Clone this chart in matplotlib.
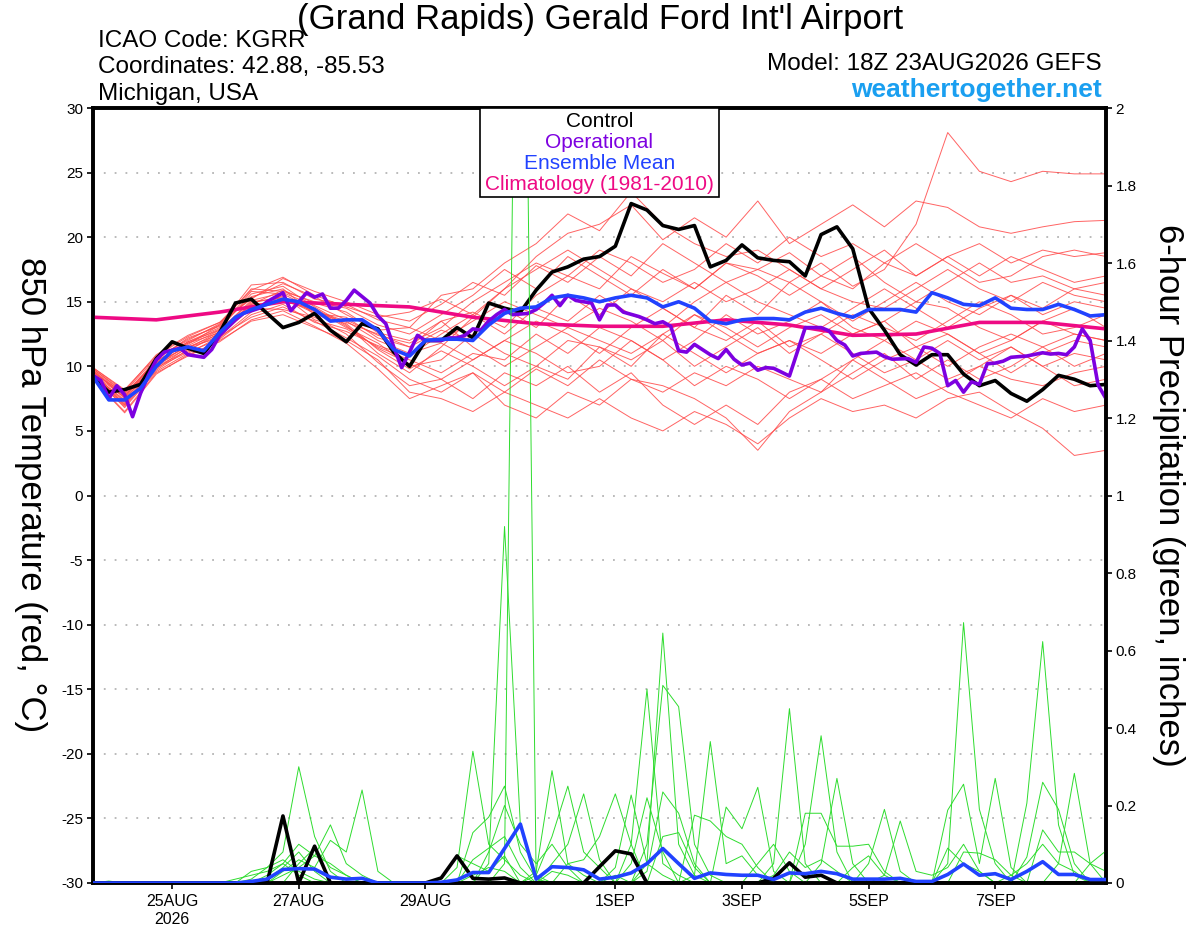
import numpy as np
import matplotlib
matplotlib.use("Agg")
import matplotlib.pyplot as plt
from matplotlib.patches import Rectangle

plt.rcParams['font.family'] = ['Liberation Sans', 'DejaVu Sans']

# ---------------- DATA ----------------
# forecast hours since 18Z 23AUG2026 (6-hourly ensemble output)
FCST_HOURS = list(range(0, 385, 6))
# 12-hourly hours used for the (estimated) individual red members
MEMBER_HOURS = list(range(0, 385, 12))
# daily climatology hours
CLIM_HOURS = list(range(0, 385, 24))

xtick_hours = [30, 78, 126, 198, 246, 294, 342]
xtick_labels = ["25AUG\n2026", "27AUG", "29AUG", "1SEP", "3SEP", "5SEP", "7SEP"]

control_temp = [9.2, 8.0, 8.2, 8.6, 10.6, 11.9, 11.4, 11.0, 12.6, 14.9,
                15.2, 14.1, 13.0, 13.4, 14.1, 12.8, 11.9, 13.3, 12.9, 11.1,
                10.0, 12.0, 12.0, 13.0, 12.2, 14.9, 14.5, 14.2, 15.9, 17.3,
                17.7, 18.3, 18.5, 19.3, 22.6, 22.1, 20.9, 20.6, 20.9, 17.7,
                18.2, 19.4, 18.4, 18.2, 18.1, 17.0, 20.2, 20.8, 19.1, 14.5,
                12.8, 10.9, 10.1, 10.9, 10.9, 9.4, 8.5, 8.9, 7.9, 7.3,
                8.2, 9.3, 9.0, 8.5, 8.6]

mean_temp = [9.2, 7.4, 7.4, 8.3, 10.0, 11.2, 11.5, 11.2, 12.6, 13.8,
             14.4, 14.8, 15.2, 15.0, 14.4, 13.5, 13.6, 13.6, 12.8, 11.3,
             10.8, 12.0, 12.1, 12.1, 12.0, 13.2, 14.1, 14.5, 14.6, 15.3,
             15.5, 15.3, 15.0, 15.3, 15.5, 15.3, 14.6, 15.0, 14.5, 13.5,
             13.3, 13.6, 13.7, 13.7, 13.6, 14.2, 14.5, 14.1, 13.8, 14.4,
             14.4, 14.4, 14.2, 15.7, 15.3, 14.8, 14.7, 15.3, 14.5, 14.4,
             14.4, 14.8, 14.4, 13.9, 14.0]

# operational run (3-hourly where readable)
oper_hours = [0, 3, 6, 9, 12, 15, 18, 21, 24, 27, 33, 36, 42, 45, 48, 54, 57, 63, 66, 72,
              75, 78, 81, 84, 87, 90, 93, 96, 99, 102, 105, 108, 111, 114, 117, 120, 123, 126,
              132, 135, 138, 141, 144, 147, 150, 153, 156, 159, 165, 168, 171, 174, 177, 180,
              183, 189, 192, 195, 198, 201, 207, 210, 213, 216, 219, 222, 225, 228, 231, 234,
              237, 240, 243, 246, 249, 252, 255, 258, 264, 270, 276, 279, 282, 285, 288, 291,
              297, 300, 303, 309, 312, 315, 318, 321, 324, 327, 330, 333, 336, 339, 342, 345,
              348, 354, 360, 363, 366, 369, 372, 375, 378, 381, 384]
oper_temp = [9.3, 8.9, 7.5, 8.5, 7.8, 6.1, 7.9, 9.3, 10.5, 11.1, 11.4, 10.9, 10.7, 11.3, 12.4,
             13.6, 14.1, 14.5, 15.0, 15.7, 14.3, 15.0, 15.7, 15.35, 15.6, 14.5, 14.5, 15.1, 15.9,
             15.4, 14.9, 13.9, 13.3, 11.5, 9.9, 11.1, 12.4, 12.0, 12.0, 12.2, 12.2, 12.4, 12.9,
             12.8, 13.5, 14.0, 14.4, 14.0, 14.1, 14.4, 14.9, 15.5, 14.7, 15.5, 15.1, 14.9, 13.6,
             14.75, 14.75, 14.2, 13.85, 13.6, 13.3, 13.45, 13.1, 11.2, 11.1, 11.7, 11.3, 10.9,
             10.6, 11.3, 10.55, 10.1, 10.25, 9.7, 9.9, 9.85, 9.25, 13.0, 13.0, 12.75, 12.0, 11.65,
             10.8, 11.0, 11.1, 10.75, 10.55, 10.6, 10.3, 11.5, 11.4, 11.0, 8.5, 8.9, 8.0, 8.8,
             8.6, 10.2, 10.25, 10.4, 10.7, 10.8, 11.05, 10.95, 11.0, 10.9, 11.5, 12.9, 12.0,
             8.55, 7.5]

clim_temp = [13.8, 13.6, 14.2, 15.0, 14.8, 14.6, 13.8, 13.3, 13.1, 13.1, 13.6, 13.2,
             12.4, 12.5, 13.4, 13.4, 12.9]

# individual ensemble members, 850 hPa temperature (12-hourly estimates)
red_members = [
    [9.8, 7.9, 10.3, 11.8, 12.9, 15.6, 16.2, 14.6, 13.2, 11.0, 9.5, 11.5, 13.8, 16.0, 18.5, 20.3, 21.0,
     22.5, 19.8, 21.5, 20.0, 22.8, 19.5, 21.0, 22.5, 20.8, 22.8, 22.3, 20.8, 20.3, 20.8, 21.2, 21.3],
    [9.4, 7.2, 10.0, 11.2, 12.6, 14.8, 15.9, 14.9, 14.2, 12.6, 12.0, 13.5, 14.2, 13.0, 15.5, 17.0, 16.0,
     18.5, 17.2, 16.0, 18.0, 17.5, 16.5, 18.0, 16.2, 17.5, 21.0, 28.1, 25.1, 24.3, 25.1, 24.9, 24.9],
    [9.0, 6.5, 9.5, 10.8, 12.0, 13.5, 14.0, 13.0, 12.0, 10.5, 8.0, 7.5, 6.5, 8.0, 7.0, 6.0, 7.5,
     6.0, 5.0, 6.5, 5.5, 4.0, 6.0, 7.5, 6.5, 7.0, 6.0, 7.5, 8.0, 6.5, 5.2, 3.1, 3.5],
    [9.6, 7.7, 10.6, 12.1, 13.2, 16.3, 16.5, 15.2, 14.8, 13.6, 13.0, 15.5, 16.0, 18.0, 19.5, 21.8, 20.5,
     23.5, 21.0, 19.5, 18.5, 19.0, 17.5, 16.0, 17.5, 19.0, 17.0, 18.5, 17.0, 18.5, 17.5, 16.5, 17.0],
    [9.2, 7.0, 9.8, 11.5, 12.2, 14.2, 15.5, 13.6, 12.9, 11.5, 10.5, 9.5, 11.0, 10.5, 12.5, 11.0, 13.0,
     12.0, 10.5, 12.0, 14.0, 12.5, 13.5, 15.0, 13.0, 12.0, 13.5, 12.5, 11.0, 12.0, 13.5, 12.5, 12.0],
    [9.9, 8.2, 10.8, 12.3, 13.4, 15.2, 16.8, 15.8, 15.0, 14.0, 13.5, 14.8, 16.5, 15.5, 17.8, 16.5, 18.5,
     17.0, 19.5, 18.0, 16.5, 17.5, 18.8, 17.0, 16.0, 18.0, 19.5, 18.0, 16.5, 17.0, 18.5, 19.0, 18.5],
    [9.3, 6.8, 9.6, 11.0, 12.3, 13.8, 14.6, 13.5, 12.2, 10.8, 9.0, 8.0, 9.5, 8.0, 9.8, 8.5, 10.5,
     9.0, 8.0, 9.5, 8.5, 10.0, 9.0, 8.0, 10.5, 9.0, 7.5, 8.5, 10.0, 9.0, 8.5, 9.5, 10.0],
    [9.7, 7.5, 10.2, 11.6, 12.8, 15.0, 15.3, 14.1, 13.8, 12.2, 11.5, 12.8, 12.0, 14.5, 13.0, 15.5, 14.0,
     16.0, 14.5, 13.0, 15.5, 14.0, 16.5, 15.0, 13.5, 15.0, 16.5, 15.0, 14.0, 15.5, 14.5, 16.0, 15.5],
    [9.5, 7.9, 10.4, 11.9, 13.0, 15.8, 15.6, 14.4, 13.0, 11.8, 10.0, 10.5, 12.5, 11.0, 10.0, 12.0, 11.5,
     10.0, 12.5, 11.0, 9.5, 11.0, 12.0, 10.5, 9.0, 10.5, 11.5, 12.5, 11.0, 9.5, 11.0, 12.0, 11.5],
    [9.1, 6.9, 9.7, 11.3, 12.4, 14.5, 14.4, 13.8, 12.5, 10.3, 8.5, 9.0, 7.5, 9.5, 8.5, 10.0, 8.0,
     9.5, 7.0, 5.5, 7.0, 5.5, 8.0, 9.0, 7.5, 8.5, 9.5, 8.0, 7.0, 6.0, 7.5, 6.5, 7.0],
    [9.8, 8.0, 10.7, 12.0, 13.3, 16.0, 15.8, 15.0, 14.5, 13.2, 12.5, 14.0, 15.5, 17.5, 16.0, 18.5, 17.0,
     15.5, 17.5, 16.0, 18.0, 17.0, 15.5, 17.0, 18.5, 16.5, 15.0, 16.5, 18.0, 16.5, 17.0, 16.0, 16.5],
    [9.4, 7.3, 10.1, 11.4, 12.7, 14.6, 15.1, 14.3, 13.5, 12.0, 11.0, 11.8, 10.5, 12.0, 13.5, 12.5, 11.0,
     13.0, 14.5, 13.0, 12.0, 13.5, 11.5, 12.5, 14.0, 13.0, 12.0, 13.5, 15.0, 14.0, 12.5, 13.0, 14.0],
    [9.6, 7.6, 10.5, 12.2, 13.1, 15.4, 16.0, 14.0, 13.3, 11.3, 9.8, 11.2, 10.0, 8.5, 10.0, 9.0, 11.5,
     10.5, 12.0, 10.0, 11.5, 13.0, 11.0, 12.5, 11.0, 9.5, 10.5, 12.0, 10.5, 11.5, 10.0, 11.0, 10.5],
    [9.2, 7.1, 9.9, 11.1, 12.1, 14.0, 14.8, 13.4, 12.7, 11.6, 10.8, 12.5, 14.0, 12.5, 14.5, 13.5, 15.5,
     14.0, 13.0, 15.0, 16.5, 15.0, 14.0, 13.0, 14.5, 16.0, 14.5, 13.0, 14.5, 15.5, 14.0, 15.0, 14.5],
    [9.7, 7.8, 10.0, 11.7, 13.2, 15.3, 16.4, 15.4, 14.0, 12.8, 13.0, 12.0, 13.5, 15.0, 14.0, 13.0, 14.5,
     13.5, 12.0, 14.0, 13.0, 11.5, 13.0, 14.0, 12.5, 13.5, 15.0, 14.5, 13.0, 12.0, 13.5, 14.5, 13.0],
    [9.3, 7.4, 10.3, 11.5, 12.5, 14.8, 15.0, 14.5, 13.1, 11.4, 10.2, 9.0, 10.5, 12.0, 11.0, 9.5, 10.0,
     12.0, 10.5, 8.5, 10.0, 9.0, 7.5, 9.0, 10.5, 12.0, 10.5, 9.0, 10.0, 11.5, 10.0, 8.5, 9.0],
    [9.5, 7.0, 10.2, 11.9, 12.8, 15.1, 15.7, 14.7, 13.6, 12.4, 11.8, 13.0, 15.0, 16.5, 18.0, 17.0, 19.0,
     18.0, 16.5, 17.5, 19.5, 18.0, 20.0, 18.5, 19.5, 18.0, 17.0, 18.5, 19.5, 18.0, 19.0, 18.5, 18.8],
    [9.0, 6.4, 9.4, 10.9, 11.9, 13.6, 14.3, 13.1, 11.8, 9.8, 7.5, 8.5, 9.5, 7.0, 6.0, 8.0, 7.0,
     9.0, 8.5, 7.5, 6.0, 3.5, 6.5, 8.0, 9.5, 11.0, 9.0, 10.5, 9.0, 10.0, 11.5, 10.0, 11.0],
    [9.9, 8.1, 10.9, 12.4, 13.4, 15.9, 16.9, 15.5, 14.6, 13.8, 14.2, 15.2, 14.0, 16.0, 17.5, 19.0, 17.5,
     16.0, 15.0, 16.5, 15.0, 16.0, 17.5, 16.0, 15.0, 14.5, 16.0, 17.5, 16.0, 15.0, 16.5, 15.5, 15.0],
    [9.4, 7.6, 10.4, 11.8, 12.6, 14.9, 15.4, 14.2, 13.4, 12.5, 11.5, 13.5, 11.5, 10.0, 11.5, 13.0, 12.0,
     11.0, 12.5, 14.0, 12.5, 11.0, 12.0, 11.0, 12.5, 13.5, 11.5, 10.0, 11.5, 12.5, 11.5, 12.5, 12.0],
]

# 6-hour precipitation (inches)
control_precip = [0, 0, 0, 0, 0, 0, 0, 0, 0, 0,
                  0, 0, 0.173, 0, 0.095, 0, 0, 0, 0, 0,
                  0, 0, 0.013, 0.07, 0.012, 0.01, 0.013, 0, 0, 0,
                  0, 0, 0.042, 0.083, 0.075, 0, 0, 0, 0, 0,
                  0, 0, 0, 0.012, 0.052, 0.015, 0.02, 0, 0, 0,
                  0, 0, 0, 0, 0, 0, 0, 0, 0, 0,
                  0, 0, 0, 0, 0]
mean_precip = [0, 0, 0, 0, 0, 0, 0, 0, 0, 0,
               0.004, 0.01, 0.035, 0.037, 0.036, 0.015, 0.01, 0.012, 0, 0,
               0, 0, 0.002, 0.008, 0.027, 0.027, 0.089, 0.152, 0.01, 0.042,
               0.04, 0.034, 0.01, 0.015, 0.026, 0.05, 0.089, 0.05, 0.012, 0.026,
               0.022, 0.02, 0.02, 0.009, 0.026, 0.024, 0.03, 0.024, 0.01, 0.01,
               0.01, 0.012, 0.004, 0.004, 0.022, 0.049, 0.02, 0.024, 0.009, 0.03,
               0.055, 0.022, 0.022, 0.009, 0.009]

# individual members: {6-hour step index: inches}, other steps are dry
green_members = [
    {10: .01, 11: .04, 12: .08, 13: .30, 14: .12, 15: .03, 23: .04, 24: .34, 25: .10, 26: .06, 27: .02,
     33: .02, 54: .05, 55: .672, 56: .19, 57: .05},
    {1: .005, 11: .02, 12: .05, 13: .10, 14: .07, 15: .15, 16: .05, 17: .02, 24: .13, 25: .17, 26: .25,
     27: .08, 28: .01, 42: .05, 43: .10, 44: .03},
    {12: .03, 13: .06, 14: .04, 15: .11, 16: .08, 17: .24, 18: .03, 22: .01, 23: .07, 24: .05, 25: .03,
     26: .07, 33: .04, 34: .227, 35: .05, 36: .02, 55: .08, 56: .077, 57: .06, 58: .02},
    {10: .03, 11: .04, 12: .06, 13: .03, 14: .01, 24: .06, 25: .09, 26: .12, 27: .04, 34: .05, 35: .22,
     36: .08, 59: .067, 60: .26, 61: .19, 62: .05},
    {12: .02, 13: .04, 14: .07, 15: .05, 16: .02, 28: .03, 29: .29, 30: .05, 31: .02, 38: .175, 39: .16,
     40: .12, 41: .10, 42: .04, 61: .05, 62: .283, 63: .05},
    {11: .01, 12: .04, 13: .08, 14: .03, 28: .02, 29: .12, 30: .25, 31: .08, 32: .04, 36: .12, 37: .13,
     38: .04, 60: .137, 61: .08, 62: .08, 63: .05, 64: .03},
    {9: .01, 10: .02, 11: .03, 12: .05, 13: .02, 29: .05, 30: .10, 31: .23, 32: .06, 40: .196, 41: .14,
     42: .247, 43: .03, 63: .05, 64: .083},
    {13: .05, 14: .09, 15: .04, 16: .02, 25: .08, 26: .20, 27: .10, 28: .05, 29: .10, 30: .04, 43: .05,
     44: .45, 45: .05},
    {26: .05, 27: 3.5, 28: .0, 45: .10, 46: .38, 47: .08},
    {25: .05, 26: .92, 27: .15, 28: .02, 46: .05, 47: .27, 48: .05, 58: .02, 59: .05, 60: .10, 61: .05,
     62: .03},
    {30: .05, 31: .06, 32: .12, 33: .23, 34: .10, 45: .18, 46: .18, 47: .095, 48: .095, 49: .10, 50: .03},
    {24: .02, 25: .04, 26: .03, 29: .03, 30: .02, 35: .10, 36: .51, 37: .455, 38: .10, 39: .02, 54: .188,
     55: .255, 56: .05, 57: .27, 58: .04},
    {34: .10, 35: .50, 36: .05, 37: .02, 49: .05, 50: .19, 51: .03, 54: .09, 55: .05, 56: .03},
    {35: .05, 36: .645, 37: .10, 38: .02, 50: .02, 51: .16, 52: .03, 53: .02, 54: .04, 55: .10, 56: .03},
    {35: .03, 36: .235, 37: .18, 38: .05, 43: .02, 44: .08, 45: .04, 46: .06, 47: .03},
    {38: .02, 39: .365, 40: .05, 41: .07, 42: .02, 48: .04, 49: .07, 50: .02, 59: .206, 60: .623,
     61: .15, 62: .02},
]

# ---------------- COLOURS / STYLE ----------------
C_RED = '#ff4848'
C_GREEN = '#2edc2e'
C_CTRL = 'black'
C_OPER = '#7d00e0'
C_MEAN = '#2142ff'
C_CLIM = '#ee0a84'
C_WEB = '#1a9ff0'

W, H = 1200, 927
fig = plt.figure(figsize=(W / 100, H / 100), dpi=100)
ax = fig.add_axes([93 / W, 1 - 883 / H, 1013 / W, 775 / H])
ax2 = ax.twinx()

# temperature axis
ax.set_xlim(0, 384)
ax.set_ylim(-30, 30)
ax.set_yticks(range(-30, 31, 5))
ax.set_yticklabels([str(v) for v in range(-30, 31, 5)])
for v in range(-25, 30, 5):
    ax.axhline(v, color='#b4b4b4', lw=1.3, ls=(0, (1, 5)), zorder=0)

for m in red_members:
    ax.plot(MEMBER_HOURS, m, color=C_RED, lw=0.7, alpha=0.85, zorder=1)

ax.plot(CLIM_HOURS, clim_temp, color=C_CLIM, lw=2.6, zorder=3)
ax.plot(FCST_HOURS, control_temp, color=C_CTRL, lw=2.6, zorder=4)
ax.plot(oper_hours, oper_temp, color=C_OPER, lw=2.6, zorder=5)
ax.plot(FCST_HOURS, mean_temp, color=C_MEAN, lw=2.6, zorder=6)

# precipitation axis
ax2.set_ylim(0, 2)
pt = np.round(np.arange(0, 2.01, 0.2), 1)
ax2.set_yticks(pt)
ax2.set_yticklabels(['0' if v == 0 else ('2' if v == 2 else f'{v:g}') for v in pt])
for g in green_members:
    vals = [g.get(i, 0.0) for i in range(len(FCST_HOURS))]
    ax2.plot(FCST_HOURS, vals, color=C_GREEN, lw=0.7, zorder=1)
ax2.plot(FCST_HOURS, control_precip, color=C_CTRL, lw=2.6, zorder=3)
ax2.plot(FCST_HOURS, mean_precip, color=C_MEAN, lw=2.6, zorder=4)

ax.set_xticks(xtick_hours)
ax.set_xticklabels(xtick_labels, fontsize=11.5, linespacing=1.2)

for a in (ax, ax2):
    for s in a.spines.values():
        s.set_linewidth(2.6)
ax.tick_params(axis='y', direction='out', length=4, width=1.2, labelsize=11, pad=3)
ax.tick_params(axis='x', direction='out', length=4, width=1.2, pad=4)
ax2.tick_params(axis='y', direction='out', length=4, width=1.2, labelsize=11, pad=3)

# legend box
ax2.add_patch(Rectangle((0.382, 0.885), 0.236, 0.115, transform=ax2.transAxes,
                        facecolor='white', edgecolor='black', lw=1.2, zorder=20))
leg = [("Control", C_CTRL), ("Operational", C_OPER),
       ("Ensemble Mean", C_MEAN), ("Climatology (1981-2010)", C_CLIM)]
for k, (txt, col) in enumerate(leg):
    ax2.text(0.5, (883 - (121 + 21.3 * k)) / 775, txt, color=col, fontsize=15,
             ha='center', va='center', transform=ax2.transAxes, zorder=21)

# header texts
fig.text(0.5, 1 - 19 / H, "(Grand Rapids) Gerald Ford Int'l Airport", ha='center', va='center',
         fontsize=25)
fig.text(98 / W, 1 - 41 / H, "ICAO Code: KGRR", ha='left', va='center', fontsize=17.5)
fig.text(98 / W, 1 - 67 / H, "Coordinates: 42.88, -85.53", ha='left', va='center', fontsize=17.5)
fig.text(98 / W, 1 - 94 / H, "Michigan, USA", ha='left', va='center', fontsize=17.5)
fig.text(1102 / W, 1 - 64 / H, "Model: 18Z 23AUG2026 GEFS", ha='right', va='center', fontsize=17.5)
fig.text(1102 / W, 1 - 90 / H, "weathertogether.net", ha='right', va='center', fontsize=19,
         fontweight='bold', color=C_WEB)

# axis titles
fig.text(30 / W, 1 - 495 / H, "850 hPa Temperature (red, °C)", rotation=270,
         ha='center', va='center', fontsize=25)
fig.text(1168 / W, 1 - 495 / H, "6-hour Precipitation (green, inches)", rotation=270,
         ha='center', va='center', fontsize=25)

fig.savefig("out.png", dpi=100)
